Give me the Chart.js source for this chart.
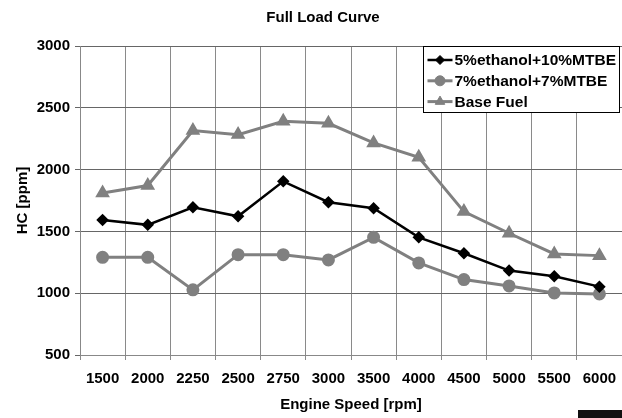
<!DOCTYPE html>
<html>
<head>
<meta charset="utf-8">
<script src="https://cdn.jsdelivr.net/npm/chart.js@4/dist/chart.umd.min.js"></script>
<style>
html,body{margin:0;padding:0;background:#fff;}
#wrap{position:relative;width:622px;height:418px;}
#c{position:absolute;left:0;top:0;}
#blk{position:absolute;left:578px;top:410px;width:44px;height:8px;background:#111;}
</style>
</head>
<body>
<div id="wrap">
<canvas id="c" width="622" height="418"></canvas>
<div id="blk"></div>
</div>
<script>
const categories = ['1500','2000','2250','2500','2750','3000','3500','4000','4500','5000','5500','6000'];
const ethanol5Mtbe10 = [1593,1553,1695,1622,1905,1736,1687,1452,1323,1183,1137,1053];
const ethanol7Mtbe7 = [1290,1290,1027,1312,1312,1269,1452,1245,1110,1059,1002,994];
const baseFuel = [1811,1871,2316,2283,2391,2375,2216,2100,1660,1485,1318,1304];
const seriesNames = ['5%ethanol+10%MTBE','7%ethanol+7%MTBE','Base Fuel'];
const yTicks = [500,1000,1500,2000,2500,3000];

const FONT = '"Liberation Sans", Arial, sans-serif';
const BLACK = '#000000';
const GRAY = '#808080';

const titlePlugin = {
  id: 'customTitle',
  afterDraw(chart) {
    const ctx = chart.ctx;
    ctx.save();
    ctx.fillStyle = '#000';
    ctx.font = 'bold 15px ' + FONT;
    ctx.textAlign = 'center';
    ctx.textBaseline = 'middle';
    ctx.fillText('Full Load Curve', 323, 18);
    ctx.restore();
  }
};

const legendPlugin = {
  id: 'boxLegend',
  afterDraw(chart) {
    const ctx = chart.ctx;
    const area = chart.chartArea;
    const x0 = 423.5, y0 = area.top + 0.5, w = 196, h = 66;
    ctx.save();
    ctx.fillStyle = '#fff';
    ctx.fillRect(x0, y0, w, h);
    ctx.strokeStyle = '#000';
    ctx.lineWidth = 1;
    ctx.strokeRect(x0, y0, w, h);
    ctx.font = 'bold 15.5px ' + FONT;
    ctx.textBaseline = 'middle';
    ctx.textAlign = 'left';
    chart.data.datasets.forEach((ds, i) => {
      const cy = y0 + 13.5 + i * 20.8;
      const lx = x0 + 4, rx = x0 + 29;
      ctx.strokeStyle = ds.borderColor;
      ctx.lineWidth = ds.borderWidth;
      ctx.beginPath(); ctx.moveTo(lx, cy); ctx.lineTo(rx, cy); ctx.stroke();
      ctx.fillStyle = ds.pointBackgroundColor;
      ctx.strokeStyle = ds.pointBorderColor;
      ctx.lineWidth = 1;
      Chart.helpers.drawPoint(ctx, {pointStyle: ds.pointStyle, radius: ds.pointRadius, borderWidth: 1, rotation: 0}, (lx + rx) / 2, cy);
      ctx.fillStyle = '#000';
      ctx.fillText(ds.label, x0 + 31, cy + 1);
    });
    ctx.restore();
  }
};

new Chart(document.getElementById('c'), {
  type: 'line',
  data: {
    labels: categories,
    datasets: [
      {
        label: seriesNames[0], data: ethanol5Mtbe10,
        borderColor: BLACK, borderWidth: 2.5,
        pointStyle: 'rectRot', pointRadius: 4.5,
        pointBackgroundColor: BLACK, pointBorderColor: BLACK
      },
      {
        label: seriesNames[1], data: ethanol7Mtbe7,
        borderColor: GRAY, borderWidth: 3,
        pointStyle: 'circle', pointRadius: 5,
        pointBackgroundColor: GRAY, pointBorderColor: GRAY
      },
      {
        label: seriesNames[2], data: baseFuel,
        borderColor: GRAY, borderWidth: 3,
        pointStyle: 'triangle', pointRadius: 5.5,
        pointBackgroundColor: GRAY, pointBorderColor: GRAY
      }
    ]
  },
  options: {
    responsive: false,
    animation: false,
    layout: { autoPadding: false, padding: { top: 46, left: 0, right: 0, bottom: 0 } },
    plugins: { legend: { display: false }, title: { display: false }, tooltip: { enabled: false } },
    elements: { line: { tension: 0 } },
    scales: {
      x: {
        offset: true,
        grid: { offset: true, color: '#8a8a8a', lineWidth: 1, tickLength: 5, drawTicks: true },
        border: { color: '#888', width: 1 },
        ticks: { color: '#000', font: { family: FONT, size: 15, weight: 'bold' }, padding: 10, maxRotation: 0, autoSkip: false },
        title: { display: true, text: 'Engine Speed [rpm]', color: '#000', font: { family: FONT, size: 15, weight: 'bold' }, padding: { top: 0, bottom: 4 } },
        afterFit(scale) { scale.height = 63; scale.paddingLeft = 0; scale.paddingRight = 0; }
      },
      y: {
        min: 500, max: 3000,
        afterBuildTicks(scale) { scale.ticks = yTicks.map(v => ({ value: v })); },
        grid: { color: '#666', lineWidth: 1, tickLength: 5, drawTicks: true },
        border: { color: '#888', width: 1 },
        ticks: { color: '#000', font: { family: FONT, size: 15, weight: 'bold' }, padding: 5, callback: v => String(v) },
        title: { display: true, text: 'HC [ppm]', color: '#000', font: { family: FONT, size: 15, weight: 'bold' }, padding: { top: 14, bottom: 0 } },
        afterFit(scale) { scale.width = 80; scale.paddingTop = 0; scale.paddingBottom = 0; }
      }
    }
  },
  plugins: [titlePlugin, legendPlugin]
});
</script>
</body>
</html>
